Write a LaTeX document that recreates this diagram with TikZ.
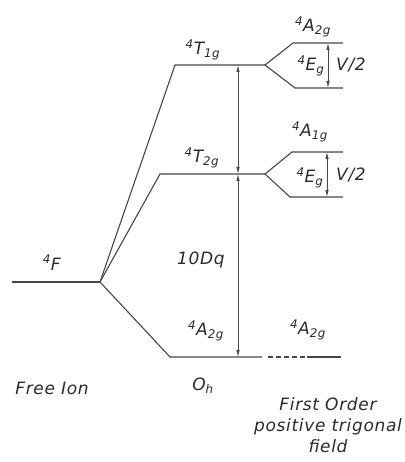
\documentclass[tikz,border=0pt]{standalone}
\usepackage{fontspec}
\setmainfont{DejaVu Sans}[LetterSpace=4]
\usetikzlibrary{arrows.meta}
\definecolor{inkgray}{RGB}{70,70,70}
\tikzset{
  level/.style={line width=1.1pt,inkgray},
  gap/.style={<->,line width=0.8pt,inkgray},
  lbl/.style={font=\itshape\fontsize{17}{20}\selectfont,inner sep=0pt,inkgray!60!black},
}
\newcommand{\term}[2]{\textsuperscript{4}#1\textsubscript{#2}}

\begin{document}
\begin{tikzpicture}[x=1pt,y=-1pt,>={Latex[length=7pt,width=3.5pt]}]
  \useasboundingbox (0,0) rectangle (404,462);
  % free ion level
  \coordinate (F0) at (12,282);
  \coordinate (F1) at (100,282);
  % octahedral levels
  \coordinate (T1a) at (175,65);  \coordinate (T1b) at (265,65);
  \coordinate (T2a) at (160,174); \coordinate (T2b) at (265,174);
  \coordinate (Aa) at (170,357);  \coordinate (Ab) at (262,357);
  % trigonal levels
  \coordinate (A2a) at (293,43);  \coordinate (A2b) at (343,43);
  \coordinate (E1a) at (295,88);  \coordinate (E1b) at (343,88);
  \coordinate (A1a) at (292,152); \coordinate (A1b) at (343,152);
  \coordinate (E2a) at (290,197); \coordinate (E2b) at (343,197);
  \coordinate (Ac) at (268,357);  \coordinate (Ad) at (307,357);
  \coordinate (Ae) at (341,357);

  \draw[level] (F0) -- (F1);
  \draw[level] (F1) -- (T1a) -- (T1b);
  \draw[level] (F1) -- (T2a) -- (T2b);
  \draw[level] (F1) -- (Aa) -- (Ab);
  \draw[level] (A2b) -- (A2a) -- (T1b) -- (E1a) -- (E1b);
  \draw[level] (A1b) -- (A1a) -- (T2b) -- (E2a) -- (E2b);
  \draw[level,dashed,dash pattern=on 5pt off 3pt] (Ac) -- (Ad);
  \draw[level] (Ad) -- (Ae);

  % splittings
  \coordinate (d1) at (238,65);
  \coordinate (d2) at (238,174);
  \coordinate (d3) at (238,357);
  \draw[gap] (d1) -- (d2);
  \draw[gap] (d2) -- (d3);
  \draw[gap] (A2b -| 328,0) -- (E1b -| 328,0);
  \draw[gap] (A1b -| 327,0) -- (E2b -| 327,0);

  % labels
  \node[lbl] (lF)   at (52,264)  {\term{F}{}};
  \node[lbl] (lT1)  at (203,50)  {\term{T}{1g}};
  \node[lbl] (lT2)  at (202,158) {\term{T}{2g}};
  \node[lbl] (lA)   at (206,331) {\term{A}{2g}};
  \node[lbl] (lDq)  at (201,260) {10Dq};
  \node[lbl] (lA2)  at (313,27)  {\term{A}{2g}};
  \node[lbl] (lE1)  at (311,66)  {\term{E}{g}};
  \node[lbl] (lV1)  at (351,65)  {V/2};
  \node[lbl] (lA1)  at (310,132) {\term{A}{1g}};
  \node[lbl] (lE2)  at (310,178) {\term{E}{g}};
  \node[lbl] (lV2)  at (351,175) {V/2};
  \node[lbl] (lA3)  at (308,330) {\term{A}{2g}};
  \node[lbl] (free) at (52,388)  {Free Ion};
  \node[lbl] (oh)   at (203,386) {O\textsubscript{h}};
  \node[lbl,align=center,font=\itshape\fontsize{17}{21}\selectfont] (trig) at (328,425)
    {First Order\\positive trigonal\\field};
\end{tikzpicture}
\end{document}
